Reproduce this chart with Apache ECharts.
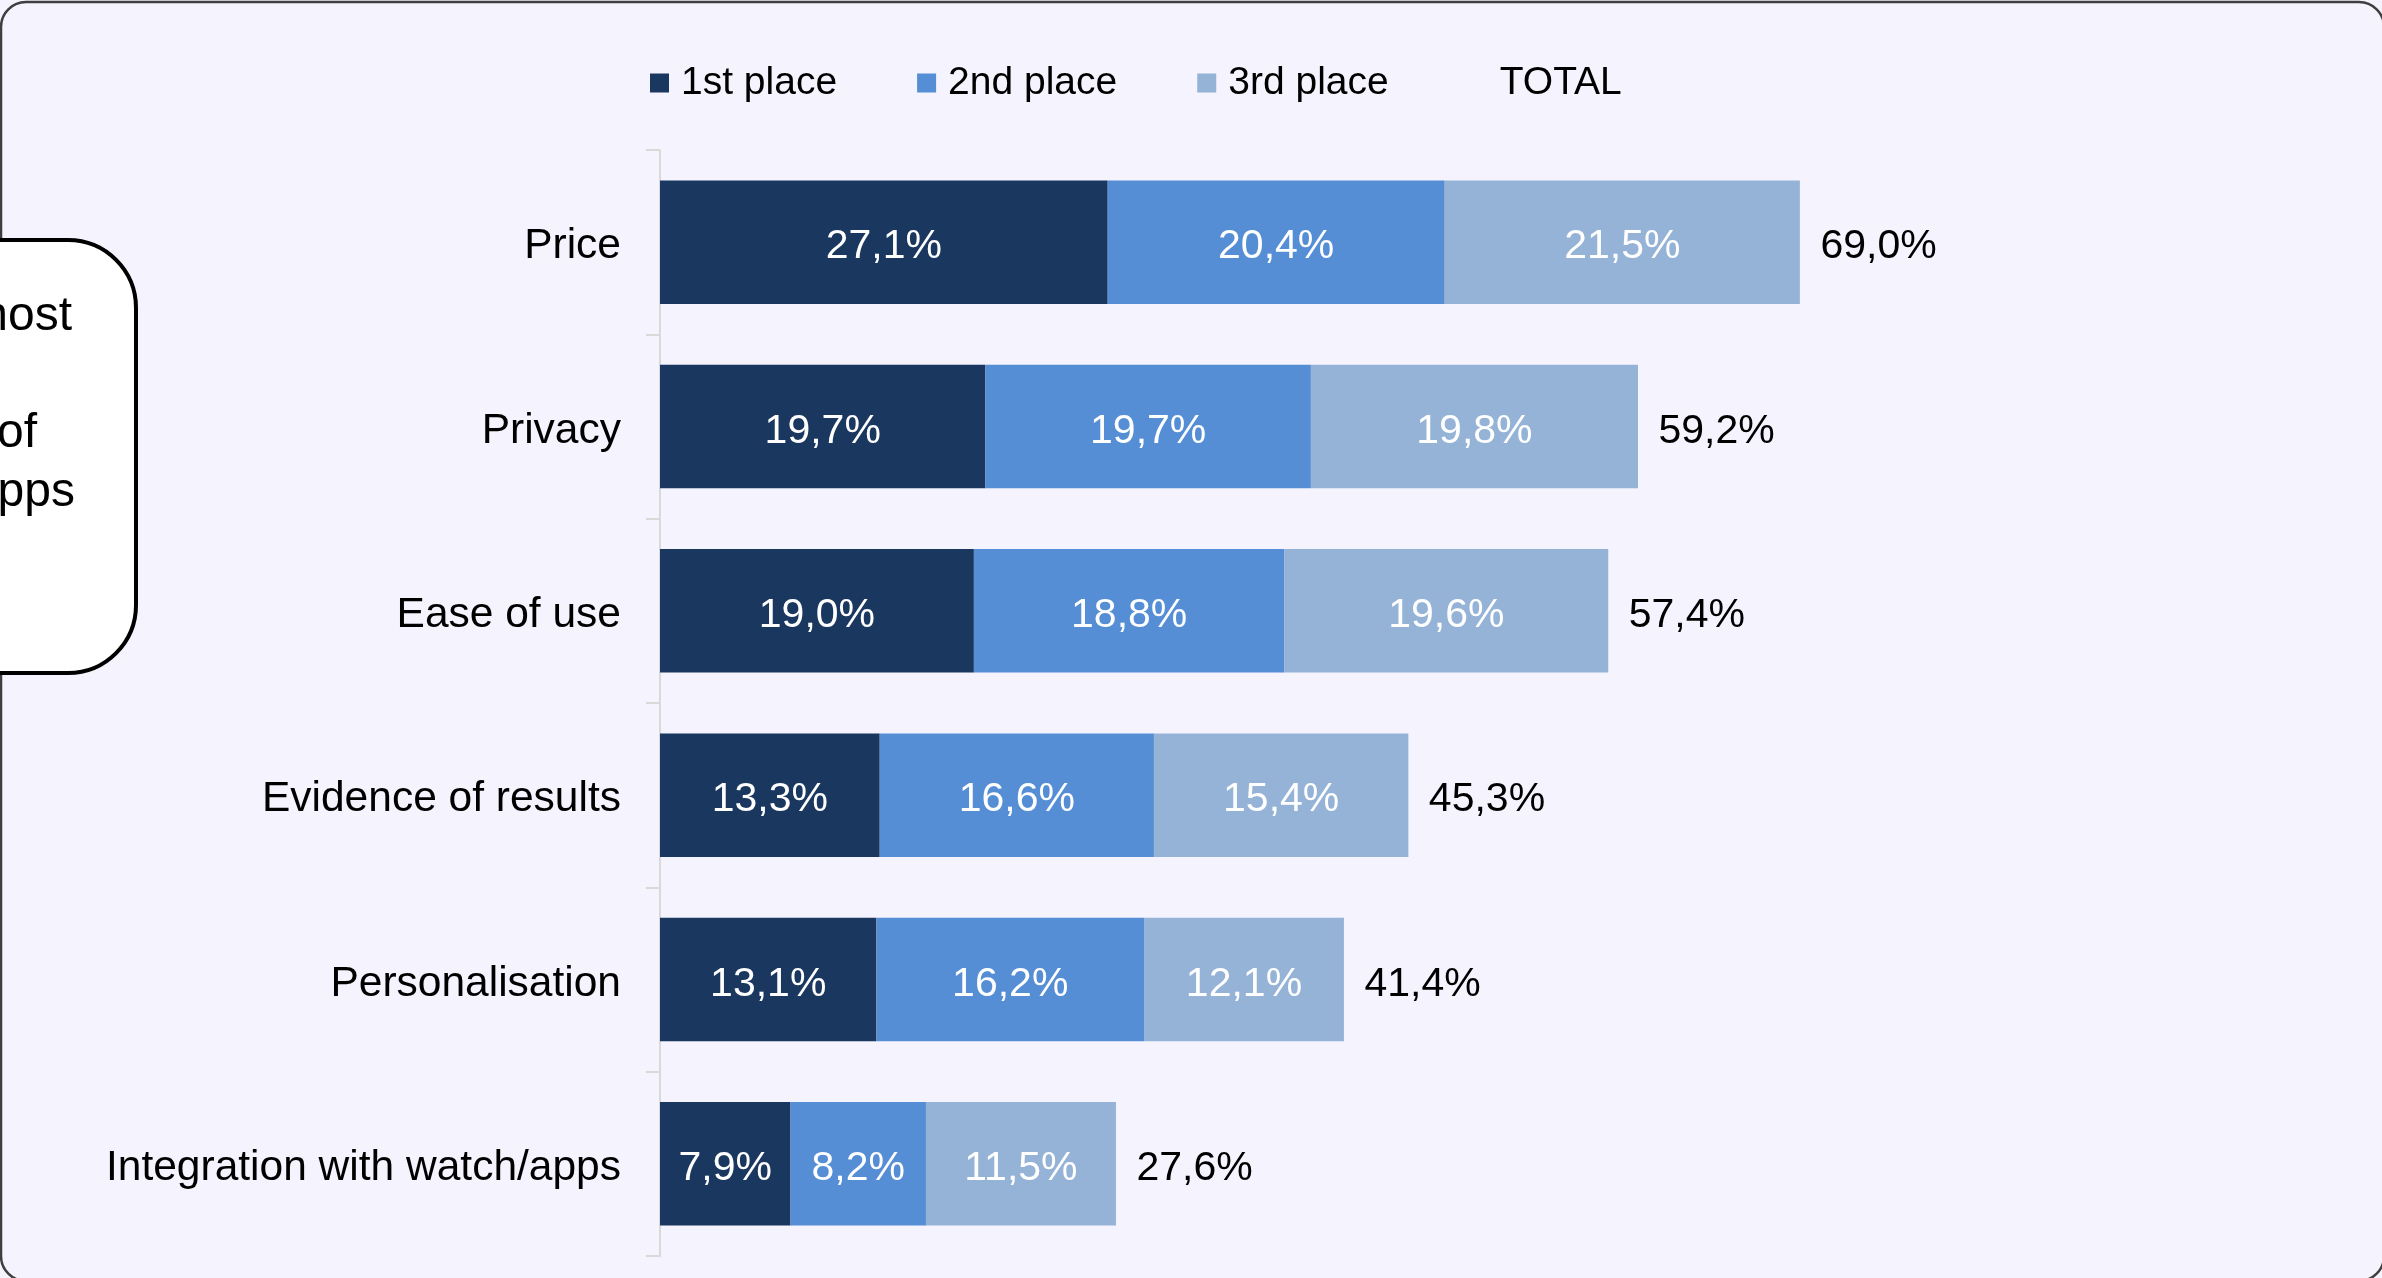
<!DOCTYPE html>
<html>
<head>
<meta charset="utf-8">
<title>Most important features</title>
<script src="https://cdn.jsdelivr.net/npm/echarts@6/dist/echarts.min.js"></script>
<style>
  html, body { margin: 0; padding: 0; background: #F5F3FE; }
  #chart { width: 2382px; height: 1278px; }
</style>
</head>
<body>
<div id="chart"></div>
<script>
// Categories, top to bottom
const categories = ['Price', 'Privacy', 'Ease of use', 'Evidence of results', 'Personalisation', 'Integration with watch/apps'];
// Share of respondents ranking each feature 1st / 2nd / 3rd (%)
const firstPlace  = [27.1, 19.7, 19.0, 13.3, 13.1, 7.9];
const secondPlace = [20.4, 19.7, 18.8, 16.6, 16.2, 8.2];
const thirdPlace  = [21.5, 19.8, 19.6, 15.4, 12.1, 11.5];
const totals      = [69.0, 59.2, 57.4, 45.3, 41.4, 27.6];
const seriesNames = ['1st place', '2nd place', '3rd place', 'TOTAL'];
// Visible tail of the side note box text
const noteLines = ['most', '', 'of', 'apps'];

const FONT = "'Liberation Sans', Arial, sans-serif";
const fmt = v => v.toFixed(1).replace('.', ',') + '%';

const chart = echarts.init(document.getElementById('chart'), null, { renderer: 'canvas' });

function stackSeries(name, data, color) {
  return {
    name: name,
    type: 'bar',
    stack: 'rank',
    data: data,
    barCategoryGap: '33%',
    itemStyle: { color: color },
    label: {
      show: true,
      position: 'inside',
      offset: [0, 5],
      color: '#FFFFFF',
      fontFamily: FONT,
      fontSize: 41,
      formatter: p => fmt(p.value)
    },
    emphasis: { disabled: true }
  };
}

const noteText = [];
const noteRight = [72, 0, 37, 75];
noteLines.forEach((t, i) => {
  if (!t) return;
  noteText.push({
    type: 'text',
    z: 12,
    style: {
      x: noteRight[i],
      y: 317 + i * 58.5,
      text: t,
      fill: '#000000',
      font: '48px ' + FONT,
      textAlign: 'right',
      textVerticalAlign: 'middle'
    }
  });
});

chart.setOption({
  backgroundColor: '#F5F3FE',
  animation: false,
  legend: {
    left: 645,
    top: 58,
    itemWidth: 19,
    itemHeight: 19,
    itemGap: 80,
    selectedMode: false,
    textStyle: { fontFamily: FONT, fontSize: 39, color: '#000000', lineHeight: 40, padding: [0, 0, 0, 7] },
    data: [
      { name: seriesNames[0], icon: 'rect' },
      { name: seriesNames[1], icon: 'rect' },
      { name: seriesNames[2], icon: 'rect' },
      { name: seriesNames[3], icon: 'none' }
    ]
  },
  grid: { left: 660, right: 70, top: 150, bottom: 22, containLabel: false },
  xAxis: {
    type: 'value',
    min: 0,
    max: 100,
    show: false,
    splitLine: { show: false }
  },
  yAxis: {
    type: 'category',
    data: categories,
    inverse: true,
    axisLine: { show: true, lineStyle: { color: '#D9D9D9', width: 2 } },
    axisTick: { show: true, length: 14, lineStyle: { color: '#D9D9D9', width: 2 } },
    axisLabel: {
      margin: 39,
      color: '#000000',
      fontFamily: FONT,
      fontSize: 42.5,
      verticalAlign: 'top',
      lineHeight: 9
    },
    splitLine: { show: false }
  },
  series: [
    stackSeries(seriesNames[0], firstPlace, '#1A375F'),
    stackSeries(seriesNames[1], secondPlace, '#558ED5'),
    stackSeries(seriesNames[2], thirdPlace, '#95B3D7'),
    {
      name: seriesNames[3],
      type: 'scatter',
      data: totals.map((v, i) => [v, categories[i]]),
      symbolSize: 1,
      itemStyle: { color: 'rgba(0,0,0,0)' },
      label: {
        show: true,
        position: 'right',
        distance: 20,
        offset: [0, 5],
        color: '#000000',
        opacity: 1,
        fontFamily: FONT,
        fontSize: 41,
        formatter: p => fmt(p.value[0])
      },
      emphasis: { disabled: true },
      z: 5
    }
  ],
  graphic: [
    {
      type: 'rect',
      z: 10,
      silent: true,
      shape: { x: 1, y: 2, width: 2383, height: 1279, r: 25 },
      style: { fill: 'none', stroke: '#3F3F3F', lineWidth: 2.5 }
    },
    {
      type: 'rect',
      z: 11,
      silent: true,
      shape: { x: -100, y: 240, width: 236, height: 433, r: 68 },
      style: { fill: '#FFFFFF', stroke: '#000000', lineWidth: 4 }
    }
  ].concat(noteText)
});
</script>
</body>
</html>
